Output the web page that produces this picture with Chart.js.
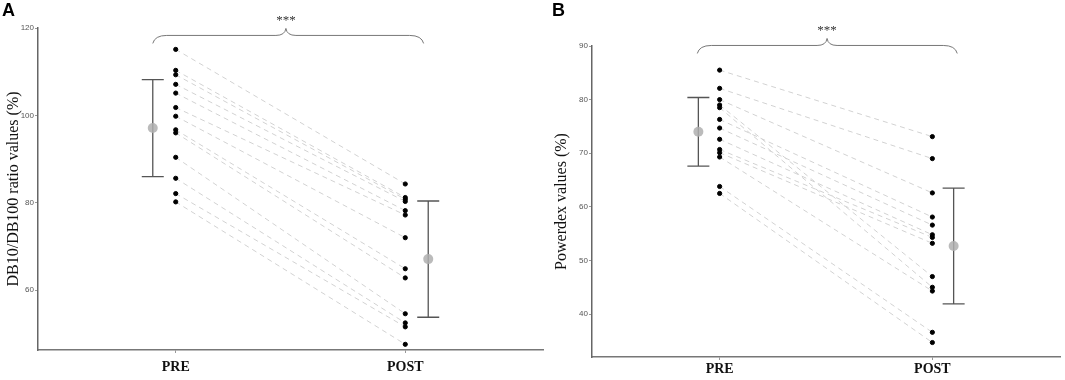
<!DOCTYPE html>
<html>
<head>
<meta charset="utf-8">
<script src="https://cdn.jsdelivr.net/npm/chart.js@4"></script>
<style>
  body { margin: 0; background: #fff; }
  #wrap { position: relative; width: 1065px; height: 380px; }
  .panel { position: absolute; top: 0; height: 380px; }
  #pA { left: 0; width: 548px; }
  #pB { left: 548px; width: 517px; }
  .tag { position: absolute; top: 0; font: bold 18px "Liberation Sans", Arial, sans-serif; }
</style>
</head>
<body>
<div id="wrap">
  <div class="panel" id="pA"><canvas id="chartA"></canvas></div>
  <div class="panel" id="pB"><canvas id="chartB"></canvas></div>
  <div class="tag" style="left:2px;">A</div>
  <div class="tag" style="left:552px;">B</div>
</div>
<script>
const categories = ["PRE", "POST"];

// panel A - DB10/DB100 ratio (%)
const preA = [115.1, 110.3, 109.3, 107.1, 105.1, 101.8, 99.8, 96.7, 96.0, 90.4, 85.6, 82.1, 80.2];
const postA = [84.3, 81.2, 80.8, 80.3, 78.2, 77.2, 72.0, 64.9, 62.8, 54.6, 52.5, 51.6, 47.6];
const meanA = [97.1, 67.1];
const sdA = [11.1, 13.3];
const ticksA = [60, 80, 100, 120];

// panel B - Powerdex (%)
const preB = [85.5, 82.1, 80.0, 79.0, 78.5, 76.3, 74.7, 72.6, 70.7, 70.1, 69.3, 63.8, 62.5];
const postB = [73.1, 69.0, 62.6, 47.0, 45.0, 58.1, 56.6, 54.8, 54.3, 53.2, 44.3, 36.6, 34.7];
const meanB = [74.0, 52.7];
const sdB = [6.4, 10.8];
const ticksB = [40, 50, 60, 70, 80, 90];

const serif = "'Liberation Serif', 'Times New Roman', serif";
const sans = "'Liberation Sans', Arial, sans-serif";

// error bars (mean +- sd) drawn beside each group
const errorBars = {
  id: "errorBars",
  beforeDatasetsDraw(chart, args, opts) {
    const xs = chart.scales.x, ys = chart.scales.y, ctx = chart.ctx;
    ctx.save();
    ctx.strokeStyle = "#555";
    ctx.lineWidth = 1.3;
    opts.mean.forEach((m, i) => {
      const x = xs.getPixelForValue(i + 1 + (i == 0 ? -0.1 : 0.1));
      const y1 = ys.getPixelForValue(m - opts.sd[i]);
      const y2 = ys.getPixelForValue(m + opts.sd[i]);
      ctx.beginPath();
      ctx.moveTo(x, y1); ctx.lineTo(x, y2);
      ctx.moveTo(x - 11, y1); ctx.lineTo(x + 11, y1);
      ctx.moveTo(x - 11, y2); ctx.lineTo(x + 11, y2);
      ctx.stroke();
    });
    ctx.restore();
  },
};

// curly brace with significance stars
const brace = {
  id: "brace",
  afterDraw(chart, args, opts) {
    const xs = chart.scales.x, ys = chart.scales.y, ctx = chart.ctx;
    const x1 = xs.getPixelForValue(opts.from);
    const x2 = xs.getPixelForValue(opts.to);
    const xm = xs.getPixelForValue(opts.mid);
    const y = ys.getPixelForValue(opts.level);
    ctx.save();
    ctx.strokeStyle = "#777";
    ctx.lineWidth = 1;
    ctx.beginPath();
    ctx.moveTo(x1, y + 8);
    ctx.quadraticCurveTo(x1 + 2, y, x1 + 14, y);
    ctx.lineTo(xm - 10, y);
    ctx.quadraticCurveTo(xm - 1, y, xm, y - 7);
    ctx.quadraticCurveTo(xm + 1, y, xm + 10, y);
    ctx.lineTo(x2 - 14, y);
    ctx.quadraticCurveTo(x2 - 2, y, x2, y + 8);
    ctx.stroke();
    ctx.fillStyle = "#333";
    ctx.font = "13px " + serif;
    ctx.textAlign = "center";
    ctx.textBaseline = "middle";
    ctx.fillText(opts.label, xm, y - 15);
    ctx.restore();
  },
};

function makeChart(id, pre, post, mean, sd, yTicks, yMin, yMax, title, pad, axisW, axisH, tickPad, braceOpts) {
  const datasets = [];
  // dots for each subject
  datasets.push({
    type: "scatter",
    data: pre.map((v) => ({ x: 1, y: v })).concat(post.map((v) => ({ x: 2, y: v }))),
    backgroundColor: "#000",
    borderColor: "#000",
    pointRadius: 2.1,
    order: 0,
  });
  // group means
  datasets.push({
    type: "scatter",
    data: mean.map((m, i) => ({ x: i + 1 + (i == 0 ? -0.1 : 0.1), y: m })),
    backgroundColor: "rgba(175,175,175,0.85)",
    borderWidth: 0,
    pointRadius: 5,
    order: 1,
  });
  // paired lines
  pre.forEach((v, i) => {
    datasets.push({
      type: "line",
      data: [{ x: 1, y: v }, { x: 2, y: post[i] }],
      borderColor: "#d2d2d2",
      borderWidth: 1,
      borderDash: [5, 4],
      pointRadius: 0,
      order: 2,
    });
  });

  return new Chart(document.getElementById(id), {
    data: { datasets: datasets },
    options: {
      responsive: true,
      maintainAspectRatio: false,
      animation: false,
      layout: { padding: pad },
      plugins: {
        legend: { display: false },
        tooltip: { enabled: false },
        errorBars: { mean: mean, sd: sd },
        brace: braceOpts,
      },
      scales: {
        x: {
          type: "linear",
          min: 0.4,
          max: 2.6,
          afterBuildTicks: (s) => { s.ticks = categories.map((c, i) => ({ value: i + 1 })); },
          afterFit: (s) => { s.height = axisH; },
          ticks: {
            callback: (v) => categories[v - 1],
            color: "#111",
            font: { family: serif, size: 14, weight: "bold" },
            padding: tickPad,
            maxRotation: 0,
          },
          grid: { drawOnChartArea: false, tickLength: 3, color: "#999" },
          border: { color: "#777", width: 1.5 },
        },
        y: {
          min: yMin,
          max: yMax,
          afterBuildTicks: (s) => { s.ticks = yTicks.map((v) => ({ value: v })); },
          afterFit: (s) => { s.width = axisW; },
          ticks: {
            color: "#555",
            font: { family: sans, size: 8 },
            padding: 1,
          },
          grid: { drawOnChartArea: false, tickLength: 3, color: "#999" },
          border: { color: "#666", width: 1.5 },
          title: {
            display: true,
            text: title,
            color: "#111",
            font: { family: serif, size: 16 },
            padding: { top: 4, bottom: 0 },
          },
        },
      },
    },
    plugins: [errorBars, brace],
  });
}

makeChart("chartA", preA, postA, meanA, sdA, ticksA, 46.3, 120,
  "DB10/DB100 ratio values (%)", { top: 28, right: 3, bottom: 0, left: 0 }, 38, 30, 6,
  { from: 0.9, to: 2.08, mid: 1.48, level: 118.3, label: "***" });

makeChart("chartB", preB, postB, meanB, sdB, ticksB, 32, 90,
  "Powerdex values (%)", { top: 46, right: 2, bottom: 0, left: 0 }, 44, 23, 1,
  { from: 0.895, to: 2.117, mid: 1.505, level: 90.1, label: "***" });
</script>
</body>
</html>
